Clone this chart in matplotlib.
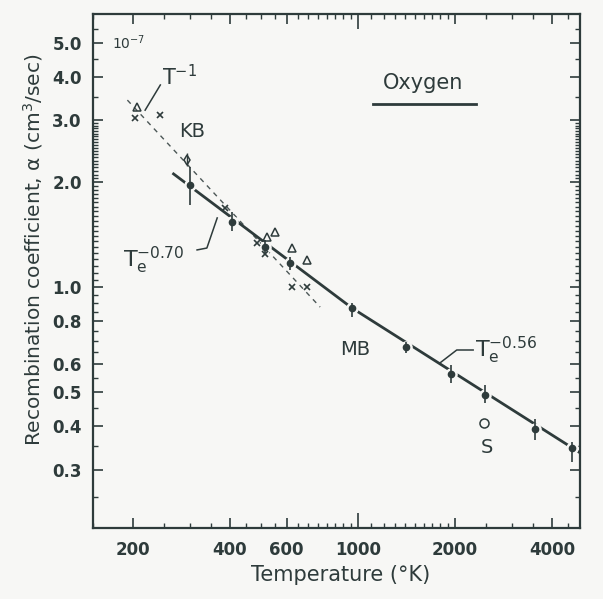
import numpy as np
import matplotlib
matplotlib.use("Agg")
import matplotlib.pyplot as plt
from matplotlib.ticker import FixedLocator, NullFormatter

INK = "#2e3b3b"
PAPER = "#f7f7f5"

# MB measurements (filled points with error bars)
mb_temp = [300, 405, 514, 615, 958, 1410, 1946, 2480, 3540, 4620]
mb_alpha = [1.96, 1.54, 1.30, 1.17, 0.87, 0.673, 0.563, 0.49, 0.393, 0.346]
mb_lo = [1.72, 1.45, 1.25, 1.12, 0.82, 0.647, 0.531, 0.465, 0.365, 0.315]
mb_hi = [2.21, 1.64, 1.36, 1.22, 0.90, 0.696, 0.598, 0.524, 0.42, 0.36]

# fitted curve: Te^-0.70 below ~1000 K, Te^-0.56 above
fit_temp = [265, 958, 4890]
fit_alpha = [2.12, 0.87, 0.335]

# KB data: crosses and triangles, with the T^-1 dashed line
kb_x_temp = [203, 243, 386, 485, 514, 623, 693]
kb_x_alpha = [3.05, 3.11, 1.68, 1.34, 1.24, 1.00, 1.00]
kb_tri_temp = [206, 521, 552, 623, 693]
kb_tri_alpha = [3.28, 1.39, 1.44, 1.29, 1.195]
kb_line_temp = [192, 762]
kb_line_alpha = [3.43, 0.876]

# single open diamond near 300 K
dia_temp = [294]
dia_alpha = [2.31]
dia_lo = [2.22]
dia_hi = [2.42]

# S point
s_temp = [2460]
s_alpha = [0.408]

x_major = [200, 400, 600, 1000, 2000, 4000]
x_labels = ["200", "400", "600", "1000", "2000", "4000"]
y_major = [5.0, 4.0, 3.0, 2.0, 1.0, 0.8, 0.6, 0.5, 0.4, 0.3]
y_labels = ["5.0", "4.0", "3.0", "2.0", "1.0", "0.8", "0.6", "0.5", "0.4", "0.3"]

plt.rcParams["font.family"] = ["DejaVu Sans"]
plt.rcParams["mathtext.fontset"] = "dejavusans"
plt.rcParams["mathtext.default"] = "regular"

fig = plt.figure(figsize=(6.03, 5.99), dpi=100, facecolor=PAPER)
ax = fig.add_axes([0.154, 0.1185, 0.808, 0.858], facecolor=PAPER)
ax.set_xscale("log")
ax.set_yscale("log")
ax.set_xlim(150, 4890)
ax.set_ylim(0.204, 6.05)

# fitted power-law curve, broken around each point
ax.plot(fit_temp, fit_alpha, color=INK, lw=2.0, solid_capstyle="butt", zorder=2)
ax.plot(mb_temp, mb_alpha, "o", ms=8, color=PAPER, zorder=3)

# T^-1 dashed line
ax.plot(kb_line_temp, kb_line_alpha, color=INK, lw=1.0, alpha=0.85,
        dashes=(3.5, 3.5), zorder=2)

err = [np.array(mb_alpha) - np.array(mb_lo), np.array(mb_hi) - np.array(mb_alpha)]
ax.errorbar(mb_temp, mb_alpha, yerr=err, fmt="o", ms=4.5, color=INK,
            elinewidth=1.2, capsize=0, zorder=4)

ax.plot(kb_x_temp, kb_x_alpha, "x", ms=4.5, mew=1.2, color=INK, zorder=4)
ax.plot(kb_tri_temp, kb_tri_alpha, "^", ms=5.5, mfc="none", mec=INK, mew=1.1, zorder=4)

derr = [np.array(dia_alpha) - np.array(dia_lo), np.array(dia_hi) - np.array(dia_alpha)]
ax.errorbar(dia_temp, dia_alpha, yerr=derr, fmt="d", ms=5.5, mfc="none", mec=INK,
            mew=1.1, color=INK, elinewidth=1.0, capsize=0, zorder=4)
ax.plot(s_temp, s_alpha, "o", ms=6.5, mfc="none", mec=INK, mew=1.1, zorder=4)

# ticks
ax.xaxis.set_major_locator(FixedLocator(x_major))
ax.set_xticklabels(x_labels, fontweight="bold")
x_minor = list(range(150, 1000, 50)) + list(range(1100, 2000, 100)) + [2500, 3000, 3500, 4500]
ax.xaxis.set_minor_locator(FixedLocator(x_minor))
ax.xaxis.set_minor_formatter(NullFormatter())

ax.yaxis.set_major_locator(FixedLocator(y_major))
ax.set_yticklabels(y_labels, fontweight="bold")
y_minor = [round(v, 2) for v in np.arange(0.25, 1.0, 0.05)] + \
          [round(v, 2) for v in np.arange(1.05, 3.0, 0.05)] + [3.5, 4.5, 5.5]
ax.yaxis.set_minor_locator(FixedLocator(y_minor))
ax.yaxis.set_minor_formatter(NullFormatter())

ax.tick_params(which="both", direction="in", top=True, right=True, color=INK,
               labelcolor=INK)
ax.tick_params(which="major", length=7, width=1.2, labelsize=12)
ax.tick_params(which="minor", length=3.5, width=1.0)
ax.tick_params(axis="x", which="major", pad=9)
ax.tick_params(axis="y", which="major", pad=8)
for t in ax.xaxis.get_major_ticks():
    if t.get_loc() == 1000:
        t.tick1line.set_markersize(11)
        t.tick2line.set_markersize(11)

for s in ax.spines.values():
    s.set_color(INK)
    s.set_linewidth(1.6)

# annotations
ax.text(172, 5.0, r"$10^{-7}$", color=INK, fontsize=10, ha="left", va="center")
ax.text(246, 3.79, r"$T^{-1}$", color=INK, fontsize=15, ha="left", va="baseline")
ax.plot([243, 218], [3.79, 3.21], color=INK, lw=1.1)
ax.text(305, 2.78, "KB", color=INK, fontsize=14, ha="center", va="center")

ax.text(0.678, 0.866, "Oxygen", transform=ax.transAxes, color=INK, fontsize=15,
        ha="center", va="center")
ax.plot([0.575, 0.786], [0.825, 0.825], transform=ax.transAxes, color=INK, lw=2.0)

ax.text(186, 1.14, r"$T_e^{-0.70}$", color=INK, fontsize=16, ha="left", va="baseline")
ax.plot([316, 339, 365], [1.277, 1.293, 1.577], color=INK, lw=1.1)

ax.text(978, 0.66, "MB", color=INK, fontsize=14, ha="center", va="center")
ax.text(2306, 0.63, r"$T_e^{-0.56}$", color=INK, fontsize=16, ha="left", va="baseline")
ax.plot([2276, 2024, 1795], [0.66, 0.66, 0.606], color=INK, lw=1.1)
ax.text(2510, 0.348, "S", color=INK, fontsize=14, ha="center", va="center")

fig.text(33 / 603, 1 - 250 / 599, r"Recombination coefficient, $\alpha$ (cm$^3$/sec)",
         rotation=90, color=INK, fontsize=14.5, ha="center", va="center")
fig.text(341 / 603, 1 - 575 / 599, "Temperature (°K)", color=INK, fontsize=15,
         ha="center", va="center")

fig.savefig("out.png", dpi=100, facecolor=PAPER)
